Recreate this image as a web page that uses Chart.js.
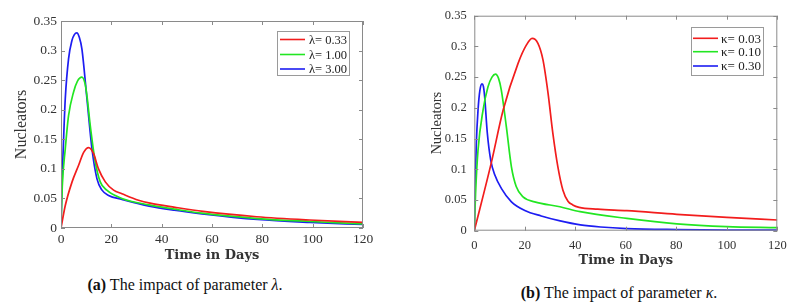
<!DOCTYPE html>
<html>
<head>
<meta charset="utf-8">
<script src="https://cdn.jsdelivr.net/npm/chart.js@4.4.1/dist/chart.umd.min.js"></script>
<style>
  body { margin: 0; background: #fff; width: 805px; height: 304px; position: relative; overflow: hidden; }
  .panel { position: absolute; }
  .caption { position: absolute; font-family: "Liberation Serif", "Times New Roman", Times, serif; font-size: 16px; color: #111; white-space: nowrap; transform: translate(-50%, -50%); }
</style>
</head>
<body>
<div class="panel" style="left:0;top:0;width:400px;height:270px"><canvas id="lambdaChart"></canvas></div>
<div class="panel" style="left:405px;top:0;width:400px;height:275px"><canvas id="kappaChart"></canvas></div>
<div class="caption" style="left:185px;top:285px"><b>(a)</b> The impact of parameter <i>λ</i>.</div>
<div class="caption" style="left:619px;top:293px"><b>(b)</b> The impact of parameter <i>κ</i>.</div>
<script>
const SERIF = '"Liberation Serif", "Times New Roman", Times, serif';

// tick labels
const xTicks = [0, 20, 40, 60, 80, 100, 120];
const yTicks = [0, 0.05, 0.1, 0.15, 0.2, 0.25, 0.3, 0.35];

// (a) parameter lambda
const lambdaLabels = ['λ= 0.33', 'λ= 1.00', 'λ= 3.00'];
const lamTimeRed = [0, 1.7, 4.4, 7, 9, 11, 12.9, 14.9, 17.6, 20.9, 24.2, 30.8, 35.4, 45.3, 56.5, 77.7, 98.8, 120];
const lamRed = [0, 0.038, 0.078, 0.106, 0.128, 0.136, 0.126, 0.100, 0.078, 0.064, 0.058, 0.047, 0.042, 0.035, 0.028, 0.019, 0.0135, 0.0095];
const lamTimeGreen = [0, 0.5, 1.7, 3, 5, 6.5, 8.3, 9.5, 10.3, 11.6, 13.6, 15.6, 18.2, 24.2, 35, 45, 56, 78, 99, 120];
const lamGreen = [0, 0.07, 0.134, 0.19, 0.23, 0.248, 0.255, 0.245, 0.224, 0.174, 0.112, 0.078, 0.064, 0.050, 0.039, 0.032, 0.025, 0.016, 0.011, 0.007];
const lamTimeBlue = [0, 0.3, 0.65, 1.2, 1.7, 3, 4.35, 5.3, 6.3, 7.3, 8.3, 10.3, 12.3, 14.3, 16.3, 18.9, 24.2, 35, 45, 56, 78, 99, 120];
const lamBlue = [0, 0.06, 0.106, 0.17, 0.219, 0.286, 0.317, 0.327, 0.330, 0.322, 0.303, 0.219, 0.134, 0.083, 0.064, 0.055, 0.0485, 0.037, 0.030, 0.024, 0.0145, 0.0095, 0.006];

// (b) parameter kappa
const kappaLabels = ['κ= 0.03', 'κ= 0.10', 'κ= 0.30'];
const kapTimeRed = [0, 6.7, 11.4, 17.3, 20.6, 22.9, 25.2, 27.2, 29.2, 31.1, 33.1, 35.1, 37.1, 39, 41.5, 48.9, 60.4, 80.2, 100, 120];
const kapRed = [0, 0.110, 0.196, 0.272, 0.302, 0.313, 0.305, 0.278, 0.224, 0.159, 0.104, 0.066, 0.048, 0.042, 0.038, 0.035, 0.0326, 0.0267, 0.0218, 0.0174];
const kapTimeGreen = [0, 0.5, 1.47, 3.45, 5.4, 7, 8.4, 9.6, 10.7, 12.7, 14.7, 16.6, 19.3, 23.9, 33.9, 41.9, 60.4, 80.2, 100, 120];
const kapGreen = [0, 0.06, 0.131, 0.196, 0.234, 0.25, 0.255, 0.248, 0.229, 0.169, 0.104, 0.072, 0.055, 0.047, 0.039, 0.031, 0.020, 0.011, 0.0065, 0.005];
const kapTimeBlue = [0, 0.3, 0.8, 1.47, 2.2, 3.05, 3.6, 4.1, 5.15, 6.5, 8.1, 10.7, 14.7, 20, 26.5, 34, 42, 50, 60.4, 80.2, 100, 120];
const kapBlue = [0, 0.07, 0.142, 0.196, 0.228, 0.239, 0.235, 0.218, 0.159, 0.115, 0.091, 0.069, 0.047, 0.033, 0.024, 0.016, 0.0095, 0.006, 0.0035, 0.0018, 0.001, 0.0008];

const colors = ['#f21d1d', '#22e622', '#1d1df2'];

const toPoints = (ts, ys) => ts.map((t, i) => ({ x: t, y: ys[i] }));

// box around the axes with inward ticks, plus a matlab-style legend
const frameLegend = {
  id: 'frameLegend',
  afterDatasetsDraw(chart, args, opts) {
    const { ctx, chartArea: a, scales } = chart;
    ctx.save();
    ctx.strokeStyle = '#8a8a8a';
    ctx.lineWidth = 1;
    ctx.strokeRect(a.left + 0.5, a.top + 0.5, a.right - a.left - 1, a.bottom - a.top - 1);
    ctx.beginPath();
    scales.x.ticks.forEach(t => {
      const px = Math.round(scales.x.getPixelForValue(t.value)) + 0.5;
      ctx.moveTo(px, a.bottom); ctx.lineTo(px, a.bottom - 4);
      ctx.moveTo(px, a.top); ctx.lineTo(px, a.top + 4);
    });
    scales.y.ticks.forEach(t => {
      const py = Math.round(scales.y.getPixelForValue(t.value)) + 0.5;
      ctx.moveTo(a.left, py); ctx.lineTo(a.left + 4, py);
      ctx.moveTo(a.right, py); ctx.lineTo(a.right - 4, py);
    });
    ctx.stroke();

    // legend
    const [bx, by, bw, bh] = opts.box;
    ctx.fillStyle = '#fff';
    ctx.fillRect(bx, by, bw, bh);
    ctx.strokeStyle = '#9a9a9a';
    ctx.strokeRect(bx + 0.5, by + 0.5, bw, bh);
    ctx.font = opts.font;
    ctx.textBaseline = 'middle';
    ctx.textAlign = 'left';
    chart.data.datasets.forEach((ds, i) => {
      const y = opts.rows[i];
      ctx.strokeStyle = ds.borderColor;
      ctx.lineWidth = 1.6;
      ctx.beginPath();
      ctx.moveTo(bx + opts.lineFrom, y);
      ctx.lineTo(bx + opts.lineTo, y);
      ctx.stroke();
      ctx.fillStyle = '#222';
      ctx.fillText(ds.label, bx + opts.textX, y + 1);
    });
    ctx.restore();
  }
};

function makeChart(id, labels, series, cfg) {
  return new Chart(document.getElementById(id), {
    type: 'line',
    data: {
      datasets: series.map((s, i) => ({
        label: labels[i],
        data: toPoints(s[0], s[1]),
        borderColor: colors[i],
        borderWidth: 1.7,
        pointRadius: 0,
        cubicInterpolationMode: 'monotone',
        fill: false
      }))
    },
    options: {
      responsive: true,
      maintainAspectRatio: false,
      animation: false,
      layout: { padding: cfg.padding },
      plugins: {
        legend: { display: false },
        tooltip: { enabled: false },
        frameLegend: cfg.legend
      },
      scales: {
        x: {
          type: 'linear',
          min: 0,
          max: 120,
          grid: { display: false, drawTicks: false, tickLength: 0 },
          border: { display: false },
          afterBuildTicks: s => { s.ticks = xTicks.map(v => ({ value: v })); },
          afterFit: s => { s.height = cfg.xHeight; },
          ticks: {
            color: '#333',
            padding: cfg.xTickPad,
            maxRotation: 0,
            font: { family: SERIF, size: cfg.tickSize }
          },
          title: {
            display: true,
            text: 'Time in Days',
            color: '#333',
            padding: { top: 0, bottom: cfg.xTitlePad },
            font: { family: '"DejaVu Serif", serif', size: 13, weight: 'bold' }
          }
        },
        y: {
          min: 0,
          max: 0.35,
          grid: { display: false, drawTicks: false, tickLength: 0 },
          border: { display: false },
          afterBuildTicks: s => { s.ticks = yTicks.map(v => ({ value: v })); },
          afterFit: s => { s.width = cfg.yWidth; },
          ticks: {
            color: '#333',
            padding: cfg.yTickPad,
            callback: v => String(+v.toFixed(2)),
            font: { family: SERIF, size: cfg.tickSize }
          },
          title: {
            display: true,
            text: 'Nucleators',
            color: '#333',
            padding: { top: cfg.yTitlePad, bottom: 0 },
            font: { family: SERIF, size: cfg.yTitleSize }
          }
        }
      }
    },
    plugins: [frameLegend]
  });
}

makeChart('lambdaChart', lambdaLabels,
  [[lamTimeRed, lamRed], [lamTimeGreen, lamGreen], [lamTimeBlue, lamBlue]],
  {
    padding: { top: 21, right: 37, left: 0, bottom: 0 },
    xHeight: 42, yWidth: 61,
    tickSize: 13.5, xTickPad: 3, yTickPad: 4,
    xTitlePad: 6.2, yTitlePad: 12, yTitleSize: 16,
    legend: { box: [277, 31, 72, 44], rows: [39.5, 54.5, 69], lineFrom: 3, lineTo: 28, textX: 32, font: '12.5px ' + SERIF }
  });

makeChart('kappaChart', kappaLabels,
  [[kapTimeRed, kapRed], [kapTimeGreen, kapGreen], [kapTimeBlue, kapBlue]],
  {
    padding: { top: 15.7, right: 27.7, left: 0, bottom: 0 },
    xHeight: 44.3, yWidth: 69.3,
    tickSize: 12.5, xTickPad: 8, yTickPad: 7.6,
    xTitlePad: 6.5, yTitlePad: 23, yTitleSize: 14.5,
    legend: { box: [286, 27, 72, 48], rows: [38.3, 51.7, 66], lineFrom: 2, lineTo: 27, textX: 30, font: '13px ' + SERIF }
  });
</script>
</body>
</html>
